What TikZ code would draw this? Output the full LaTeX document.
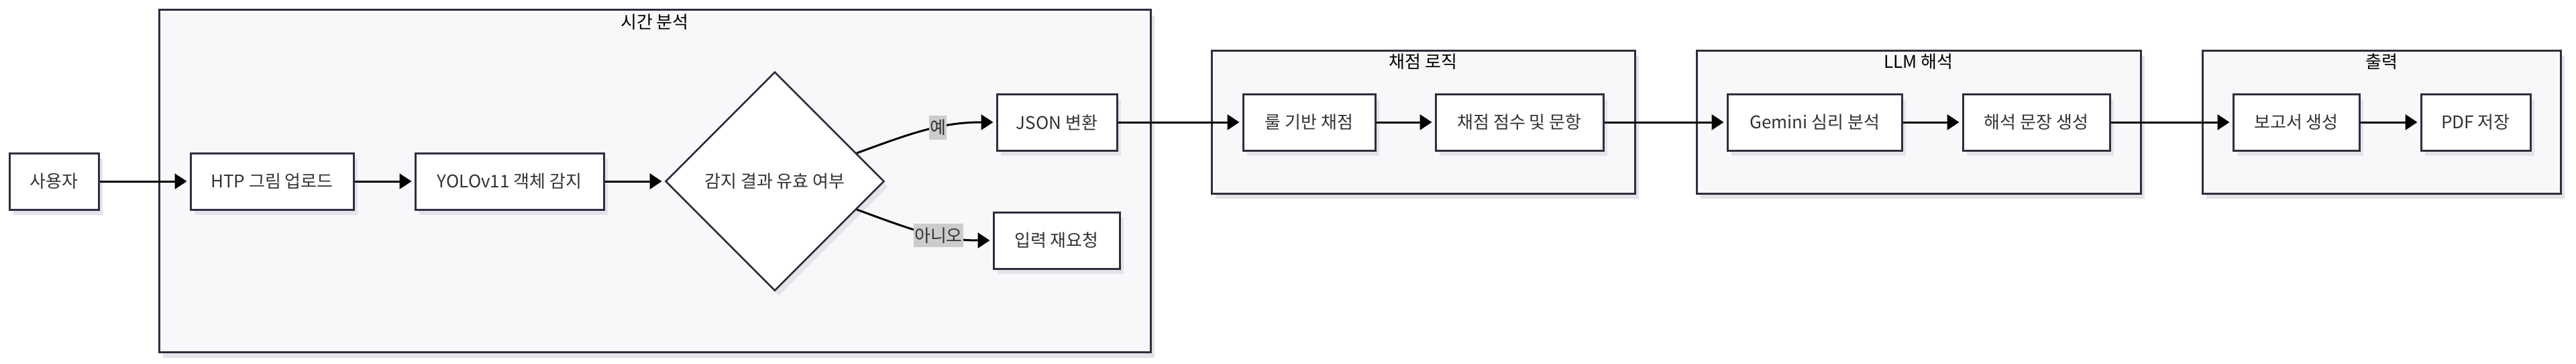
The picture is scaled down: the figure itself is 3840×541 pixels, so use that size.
\documentclass[tikz,border=0pt]{standalone}
\usepackage{fontspec}
\setmainfont{Noto Sans CJK KR}
\usepackage{xcolor}
\usepackage{tikz}
\usetikzlibrary{arrows.meta,shapes.geometric,shadows,positioning}
\definecolor{boxline}{HTML}{2E2E40}
\definecolor{groupfill}{HTML}{F8F8FA}
\definecolor{shadowgray}{HTML}{E4E4E8}
\definecolor{labelgray}{HTML}{CCCCCC}
\definecolor{textdark}{HTML}{333333}
\tikzset{
  boxshadow/.style={drop shadow={shadow xshift=3pt,shadow yshift=-4pt,fill=shadowgray,opacity=1}},
  proc/.style={draw=boxline,line width=1.5pt,fill=white,minimum height=42pt,inner sep=0pt,
    text=textdark,font=\fontsize{13}{15}\selectfont,boxshadow},
  decision/.style={diamond,aspect=1,draw=boxline,line width=1.3pt,fill=white,minimum width=163pt,
    minimum height=163pt,inner sep=0pt,text=textdark,font=\fontsize{13}{15}\selectfont,boxshadow},
  groupbox/.style={draw=boxline,line width=1.5pt,fill=groupfill,inner sep=0pt,boxshadow},
  grouptitle/.style={text=black,font=\fontsize{13}{15}\selectfont,inner sep=0pt},
  edgelbl/.style={fill=labelgray,text=textdark,font=\fontsize{13}{15}\selectfont,inner xsep=0.5pt,inner ysep=3pt},
  flow/.style={-{Triangle[length=9pt,width=11.5pt]},line width=1.5pt,black,shorten >=2pt}
}
\begin{document}
\begin{tikzpicture}[x=0.5pt,y=0.5pt]
   \useasboundingbox (0,0) rectangle (3840,-541);
   \node[groupbox,minimum width=739pt,minimum height=255pt] (gtime) at (976,-269.75) {};
   \node[groupbox,minimum width=315.5pt,minimum height=106.5pt] (gscore) at (2121.5,-181.5) {};
   \node[groupbox,minimum width=331pt,minimum height=106.5pt] (gllm) at (2860,-181.5) {};
   \node[groupbox,minimum width=267pt,minimum height=106.5pt] (gout) at (3550,-181.5) {};
   \node[grouptitle] (ttime) at ([yshift=-10pt]gtime.north) {시간 분석};
   \node[grouptitle] (tscore) at ([yshift=-9pt]gscore.north) {채점 로직};
   \node[grouptitle] (tllm) at ([yshift=-9pt]gllm.north) {LLM 해석};
   \node[grouptitle] (tout) at ([yshift=-9pt]gout.north) {출력};

   \node[proc,minimum width=66.5pt] (user) at (80.5,-270) {사용자};
   \node[proc,minimum width=121.5pt] (upload) at (405.5,-270) {HTP 그림 업로드};
   \node[proc,minimum width=140.5pt] (yolo) at (759.5,-270) {YOLOv11 객체 감지};
   \node[decision] (check) at (1155,-270) {감지 결과 유효 여부};
   \node[proc,minimum width=89.5pt] (json) at (1575.5,-182) {JSON 변환};
   \node[proc,minimum width=94pt] (retry) at (1575,-358) {입력 재요청};
   \node[proc,minimum width=98.5pt] (rule) at (1951.5,-182) {룰 기반 채점};
   \node[proc,minimum width=125pt] (score) at (2265,-182) {채점 점수 및 문항};
   \node[proc,minimum width=130pt] (gemini) at (2705,-182) {Gemini 심리 분석};
   \node[proc,minimum width=109.5pt] (interp) at (3035.5,-182) {해석 문장 생성};
   \node[proc,minimum width=94pt] (report) at (3423,-182) {보고서 생성};
   \node[proc,minimum width=81.5pt] (pdf) at (3690.5,-182) {PDF 저장};

   \draw[flow] (user) -- (upload);
   \draw[flow] (upload) -- (yolo);
   \draw[flow] (yolo) -- (check);
   \draw[flow] (check.19) to[out=20,in=180] node[edgelbl,pos=0.6] (lyes) {예} (json.west);
   \draw[flow] (check.-19) to[out=-20,in=180] node[edgelbl,pos=0.62] (lno) {아니오} (retry.west);
   \draw[flow] (json) -- (rule);
   \draw[flow] (rule) -- (score);
   \draw[flow] (score) -- (gemini);
   \draw[flow] (gemini) -- (interp);
   \draw[flow] (interp) -- (report);
   \draw[flow] (report) -- (pdf);
\end{tikzpicture}
\end{document}
